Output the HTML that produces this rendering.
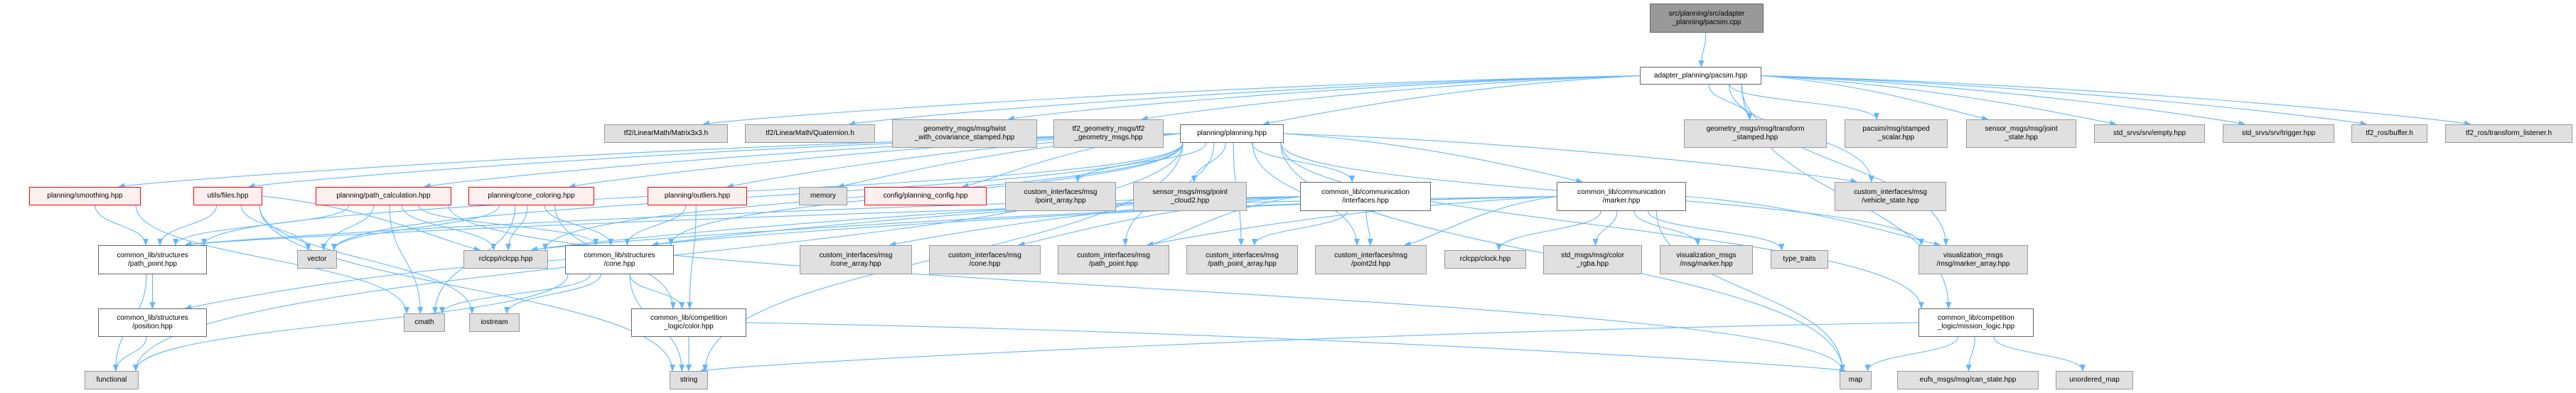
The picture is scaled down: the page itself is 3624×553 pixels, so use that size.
<!DOCTYPE html>
<html><head><meta charset="utf-8">
<style>
html,body{margin:0;padding:0;background:#fff;}
#wrap{position:relative;width:3624px;height:553px;overflow:hidden;}
svg{position:absolute;left:0;top:0;}
.n{position:absolute;box-sizing:border-box;display:flex;flex-direction:column;justify-content:center;align-items:center;
font-family:"Liberation Sans",Arial,sans-serif;font-size:10px;line-height:12px;color:#000;white-space:nowrap;text-align:center;z-index:2;}
.g{background:#e0e0e0;border:1px solid #999;}
.w{background:#fff;border:1px solid #666;}
.r{background:#fff0f0;border:1px solid #ff0000;}
.d{background:#999;border:1px solid #666;}
</style></head><body>
<div id="wrap">
<svg id="edges" width="3624" height="553" xmlns="http://www.w3.org/2000/svg">
<defs><marker id="ah" markerWidth="10" markerHeight="8" refX="9" refY="4" orient="auto" markerUnits="userSpaceOnUse">
<path d="M0,0 L10,4 L0,8 z" fill="#63b8ff"/></marker></defs>
</svg>
<div class="n d" id="top" style="left:2321px;top:5px;width:160px;height:41px">src/planning/src/adapter<br>_planning/pacsim.cpp</div>
<div class="n w" id="pacsim" style="left:2307px;top:94px;width:171px;height:25px">adapter_planning/pacsim.hpp</div>
<div class="n g" id="mat" style="left:850px;top:175px;width:174px;height:26px">tf2/LinearMath/Matrix3x3.h</div>
<div class="n g" id="quat" style="left:1048px;top:175px;width:183px;height:26px">tf2/LinearMath/Quaternion.h</div>
<div class="n g" id="twist" style="left:1255px;top:168px;width:204px;height:40px">geometry_msgs/msg/twist<br>_with_covariance_stamped.hpp</div>
<div class="n g" id="tf2g" style="left:1482px;top:168px;width:155px;height:40px">tf2_geometry_msgs/tf2<br>_geometry_msgs.hpp</div>
<div class="n w" id="plan" style="left:1660px;top:175px;width:146px;height:26px">planning/planning.hpp</div>
<div class="n g" id="tfs" style="left:2369px;top:168px;width:201px;height:40px">geometry_msgs/msg/transform<br>_stamped.hpp</div>
<div class="n g" id="scal" style="left:2595px;top:168px;width:145px;height:40px">pacsim/msg/stamped<br>_scalar.hpp</div>
<div class="n g" id="joint" style="left:2766px;top:168px;width:155px;height:40px">sensor_msgs/msg/joint<br>_state.hpp</div>
<div class="n g" id="empty" style="left:2946px;top:175px;width:156px;height:26px">std_srvs/srv/empty.hpp</div>
<div class="n g" id="trig" style="left:3127px;top:175px;width:157px;height:26px">std_srvs/srv/trigger.hpp</div>
<div class="n g" id="buf" style="left:3308px;top:175px;width:107px;height:26px">tf2_ros/buffer.h</div>
<div class="n g" id="tl" style="left:3440px;top:175px;width:179px;height:26px">tf2_ros/transform_listener.h</div>
<div class="n r" id="smooth" style="left:41px;top:263px;width:157px;height:26px">planning/smoothing.hpp</div>
<div class="n r" id="files" style="left:272px;top:263px;width:97px;height:26px">utils/files.hpp</div>
<div class="n r" id="pcalc" style="left:444px;top:263px;width:191px;height:26px">planning/path_calculation.hpp</div>
<div class="n r" id="ccol" style="left:659px;top:263px;width:177px;height:26px">planning/cone_coloring.hpp</div>
<div class="n r" id="outl" style="left:911px;top:263px;width:140px;height:26px">planning/outliers.hpp</div>
<div class="n g" id="mem" style="left:1124px;top:263px;width:68px;height:26px">memory</div>
<div class="n r" id="cfg" style="left:1216px;top:263px;width:172px;height:26px">config/planning_config.hpp</div>
<div class="n g" id="parr" style="left:1414px;top:256px;width:156px;height:41px">custom_interfaces/msg<br>/point_array.hpp</div>
<div class="n g" id="pc2" style="left:1594px;top:256px;width:160px;height:41px">sensor_msgs/msg/point<br>_cloud2.hpp</div>
<div class="n w" id="intf" style="left:1829px;top:256px;width:184px;height:41px">common_lib/communication<br>/interfaces.hpp</div>
<div class="n w" id="mark" style="left:2190px;top:256px;width:182px;height:41px">common_lib/communication<br>/marker.hpp</div>
<div class="n g" id="veh" style="left:2581px;top:256px;width:157px;height:41px">custom_interfaces/msg<br>/vehicle_state.hpp</div>
<div class="n w" id="spp" style="left:138px;top:345px;width:153px;height:41px">common_lib/structures<br>/path_point.hpp</div>
<div class="n g" id="vec" style="left:418px;top:352px;width:56px;height:26px">vector</div>
<div class="n g" id="rcl" style="left:652px;top:352px;width:119px;height:26px">rclcpp/rclcpp.hpp</div>
<div class="n w" id="scone" style="left:795px;top:345px;width:153px;height:41px">common_lib/structures<br>/cone.hpp</div>
<div class="n g" id="carr" style="left:1125px;top:345px;width:158px;height:41px">custom_interfaces/msg<br>/cone_array.hpp</div>
<div class="n g" id="ccone" style="left:1307px;top:345px;width:157px;height:41px">custom_interfaces/msg<br>/cone.hpp</div>
<div class="n g" id="cpp" style="left:1488px;top:345px;width:157px;height:41px">custom_interfaces/msg<br>/path_point.hpp</div>
<div class="n g" id="cppa" style="left:1669px;top:345px;width:157px;height:41px">custom_interfaces/msg<br>/path_point_array.hpp</div>
<div class="n g" id="p2d" style="left:1850px;top:345px;width:157px;height:41px">custom_interfaces/msg<br>/point2d.hpp</div>
<div class="n g" id="clock" style="left:2032px;top:352px;width:115px;height:26px">rclcpp/clock.hpp</div>
<div class="n g" id="rgba" style="left:2171px;top:345px;width:139px;height:41px">std_msgs/msg/color<br>_rgba.hpp</div>
<div class="n g" id="vmark" style="left:2335px;top:345px;width:131px;height:41px">visualization_msgs<br>/msg/marker.hpp</div>
<div class="n g" id="tt" style="left:2491px;top:352px;width:81px;height:26px">type_traits</div>
<div class="n g" id="marr" style="left:2699px;top:345px;width:154px;height:41px">visualization_msgs<br>/msg/marker_array.hpp</div>
<div class="n w" id="pos" style="left:138px;top:434px;width:153px;height:40px">common_lib/structures<br>/position.hpp</div>
<div class="n g" id="cmath" style="left:568px;top:441px;width:58px;height:26px">cmath</div>
<div class="n g" id="ios" style="left:660px;top:441px;width:71px;height:26px">iostream</div>
<div class="n w" id="color" style="left:888px;top:434px;width:162px;height:40px">common_lib/competition<br>_logic/color.hpp</div>
<div class="n w" id="mlog" style="left:2699px;top:434px;width:162px;height:40px">common_lib/competition<br>_logic/mission_logic.hpp</div>
<div class="n g" id="func" style="left:119px;top:522px;width:76px;height:26px">functional</div>
<div class="n g" id="str" style="left:942px;top:522px;width:54px;height:26px">string</div>
<div class="n g" id="map" style="left:2588px;top:522px;width:45px;height:26px">map</div>
<div class="n g" id="can" style="left:2669px;top:522px;width:199px;height:26px">eufs_msgs/msg/can_state.hpp</div>
<div class="n g" id="umap" style="left:2892px;top:522px;width:109px;height:26px">unordered_map</div>
</div>
<script>
(function(){
var E=[
["top","pacsim"],
["pacsim","mat"],["pacsim","quat"],["pacsim","twist"],["pacsim","tf2g"],["pacsim","plan"],["pacsim","tfs"],["pacsim","scal"],["pacsim","joint"],["pacsim","empty"],["pacsim","trig"],["pacsim","buf"],["pacsim","tl"],["pacsim","veh"],["pacsim","marr"],["pacsim","mlog"],
["plan","smooth"],["plan","files"],["plan","pcalc"],["plan","ccol"],["plan","outl"],["plan","mem"],["plan","cfg"],["plan","parr"],["plan","pc2"],["plan","intf"],["plan","mark"],["plan","func"],["plan","spp"],["plan","vec"],["plan","rcl"],["plan","scone"],["plan","str"],["plan","map"],["plan","cpp"],["plan","cppa"],["plan","p2d"],["plan","veh"],["plan","marr"],["plan","mlog"],
["smooth","spp"],["smooth","cmath"],
["files","spp"],["files","vec"],["files","rcl"],["files","str"],["files","ios"],
["pcalc","spp"],["pcalc","vec"],["pcalc","scone"],["pcalc","rcl"],["pcalc","cmath"],["pcalc","map"],
["ccol","vec"],["ccol","rcl"],["ccol","scone"],["ccol","cmath"],["ccol","color"],
["outl","scone"],["outl","color"],
["spp","pos"],["spp","func"],["pos","func"],
["scone","pos"],["scone","cmath"],["scone","ios"],["scone","color"],["scone","str"],["scone","func"],
["color","str"],["color","map"],
["intf","carr"],["intf","ccone"],["intf","cpp"],["intf","cppa"],["intf","p2d"],["intf","scone"],["intf","spp"],["intf","rcl"],
["mark","clock"],["mark","rgba"],["mark","vmark"],["mark","tt"],["mark","marr"],["mark","cpp"],["mark","p2d"],["mark","scone"],["mark","spp"],["mark","rcl"],["mark","map"],
["mlog","map"],["mlog","can"],["mlog","umap"],["mlog","str"]
];
var svg=document.getElementById('edges'),ns="http://www.w3.org/2000/svg";
function box(id){var e=document.getElementById(id);return {x:e.offsetLeft,y:e.offsetTop,w:e.offsetWidth,h:e.offsetHeight};}
function cl(v,a,b){return Math.max(a,Math.min(b,v));}
E.forEach(function(p){
 var s=box(p[0]),t=box(p[1]);
 var scx=s.x+s.w/2,tcx=t.x+t.w/2;
 var sb=s.y+s.h,tt=t.y,d;
 var dy=tt-sb;
 if(dy<=2){ // same level: from side
   var left=tcx<scx;
   var sx=left?s.x:s.x+s.w,sy=s.y+s.h/2;
   var tx=left?t.x+t.w:t.x,ty=t.y+t.h/2;
   d="M"+sx+","+sy+" C"+(sx+(tx-sx)*0.4)+","+(sy+40)+" "+(tx-(tx-sx)*0.4)+","+(ty+40)+" "+tx+","+ty;
 } else if(Math.abs(tcx-scx)>6*dy && dy<120){
   var left2=tcx<scx;
   var sx2=left2?s.x:s.x+s.w,sy2=s.y+s.h*0.5;
   var ex=cl(tcx+(left2?t.w*0.3:-t.w*0.3),t.x+4,t.x+t.w-4),ey=tt;
   d="M"+sx2+","+sy2+" C"+(sx2+(ex-sx2)*0.5)+","+(sy2+(ey-sy2)*0.2)+" "+(ex+(left2?40:-40))+","+(ey-8)+" "+ex+","+ey;
 } else {
   var sx3=cl(scx+(tcx-scx)*0.15,s.x+4,s.x+s.w-4);
   var ex3=cl(tcx+(scx-tcx)*0.1,t.x+4,t.x+t.w-4);
   var k=dy*0.5;
   d="M"+sx3+","+sb+" C"+sx3+","+(sb+k)+" "+ex3+","+(tt-k)+" "+ex3+","+tt;
 }
 var pa=document.createElementNS(ns,'path');
 pa.setAttribute('d',d);pa.setAttribute('fill','none');pa.setAttribute('stroke','#63b8ff');
 pa.setAttribute('stroke-width','1.1');pa.setAttribute('marker-end','url(#ah)');
 svg.appendChild(pa);
});
})();
</script>
</body></html>
